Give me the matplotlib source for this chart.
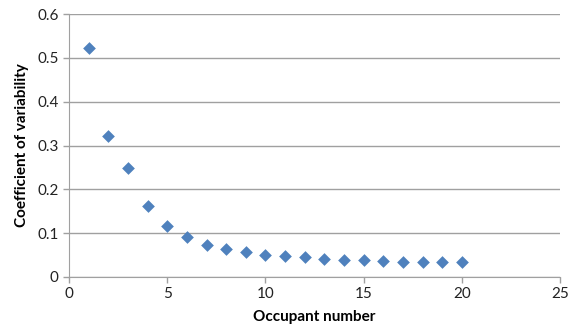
import matplotlib
matplotlib.use("Agg")
import matplotlib.pyplot as plt

occupant = list(range(1, 21))
cv = [0.522, 0.322, 0.249, 0.162, 0.116, 0.091, 0.074, 0.063, 0.056, 0.051,
      0.049, 0.046, 0.042, 0.039, 0.038, 0.036, 0.035, 0.035, 0.034, 0.034]
xticks = [0, 5, 10, 15, 20, 25]
yticks = [0, 0.1, 0.2, 0.3, 0.4, 0.5, 0.6]

plt.rcParams['font.family'] = ['Lato', 'DejaVu Sans']

fig = plt.figure(figsize=(5.68, 3.34), dpi=100)
ax = fig.add_axes([0.1215, 0.1707, 0.8645, 0.7873])
ax.scatter(occupant, cv, marker='D', s=42, color='#4F81BD', zorder=3, linewidths=0)
ax.set_xlim(0, 25)
ax.set_ylim(0, 0.6)
ax.set_xticks(xticks)
ax.set_yticks(yticks)
ax.set_xticklabels([str(t) for t in xticks])
ax.set_yticklabels(['0'] + [f'{t:.1f}' for t in yticks[1:]])
ax.yaxis.grid(True, color='#A0A0A0', linewidth=1)
ax.set_axisbelow(True)
for s in ['top', 'right']:
    ax.spines[s].set_visible(False)
for s in ['left', 'bottom']:
    ax.spines[s].set_color('#A0A0A0')
ax.tick_params(axis='both', colors='#A0A0A0', labelcolor='#222222', labelsize=11, length=4, width=1)
ax.set_xlabel('Occupant number', fontsize=11, fontweight='bold', labelpad=6)
ax.set_ylabel('Coefficient of variability', fontsize=11, fontweight='bold', labelpad=6)
fig.savefig('out.png', dpi=100)
